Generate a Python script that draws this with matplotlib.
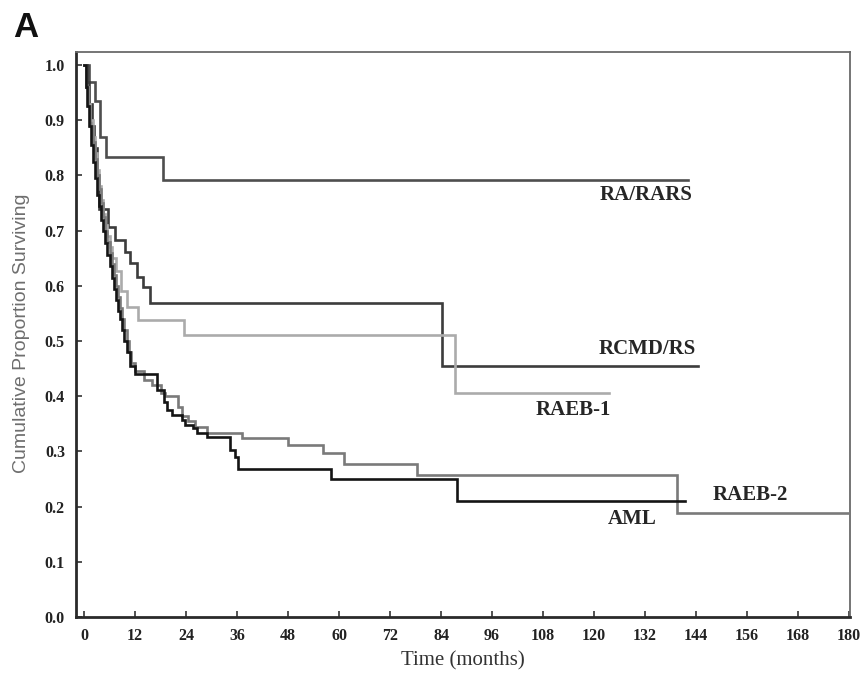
import matplotlib
matplotlib.use("Agg")
import matplotlib.pyplot as plt

# ---- data (step times in months, survival after each step) ----
ra_t = [0, 1.2, 2.6, 3.8, 5.2, 18.6]
ra_s = [1.0, 0.97, 0.935, 0.87, 0.833, 0.792]
ra_end = 142

rcmd_t = [0, 0.6, 1.2, 1.8, 2.4, 3.0, 3.6, 5.7, 7.3, 9.6, 10.8, 12.4, 13.9, 15.4, 84.2]
rcmd_s = [1.0, 0.97, 0.93, 0.89, 0.85, 0.80, 0.74, 0.707, 0.683, 0.662, 0.641, 0.616, 0.598, 0.569, 0.454]
rcmd_end = 144.4

raeb1_t = [0, 0.5, 1.0, 1.5, 2.0, 2.5, 3.0, 3.5, 4.0, 4.5, 5.0, 5.5, 6.0, 6.5, 7.5, 8.7, 10.0, 12.6, 23.4, 87.3]
raeb1_s = [1.0, 0.96, 0.93, 0.90, 0.87, 0.84, 0.81, 0.78, 0.755, 0.73, 0.71, 0.69, 0.67, 0.65, 0.626, 0.59, 0.562, 0.538, 0.511, 0.405]
raeb1_end = 123.4

raeb2_t = [0, 0.5, 1.0, 1.5, 2.0, 2.5, 3.0, 3.5, 4.0, 4.5, 5.0, 5.5, 6.0, 6.5, 7.0, 7.5, 8.0, 8.5, 9.0, 9.5,
           10.0, 10.5, 11.0, 12.0, 14.0, 16.0, 18.0, 19.0, 22.0, 23.0, 24.5, 26.0, 28.9, 37.1, 48.0, 56.3, 61.2, 78.4, 139.5]
raeb2_s = [1.0, 0.96, 0.925, 0.89, 0.86, 0.83, 0.80, 0.775, 0.75, 0.725, 0.70, 0.68, 0.66, 0.64, 0.62, 0.60, 0.58, 0.56, 0.54, 0.52,
           0.50, 0.48, 0.46, 0.445, 0.43, 0.42, 0.405, 0.40, 0.38, 0.365, 0.355, 0.345, 0.333, 0.324, 0.312, 0.297, 0.278, 0.258, 0.188]
raeb2_end = 180.2

aml_t = [0, 0.4, 0.8, 1.2, 1.6, 2.0, 2.5, 3.0, 3.5, 4.0, 4.5, 5.0, 5.5, 6.0, 6.5, 7.0, 7.5, 8.0, 8.5, 9.0,
         9.5, 10.0, 10.8, 12.0, 17.1, 18.7, 19.4, 20.6, 23.0, 23.8, 25.7, 26.5, 28.9, 34.4, 35.5, 36.3, 58.1, 87.8]
aml_s = [1.0, 0.96, 0.925, 0.89, 0.855, 0.825, 0.795, 0.765, 0.745, 0.72, 0.70, 0.678, 0.655, 0.635, 0.615, 0.595, 0.575, 0.555, 0.54, 0.52,
         0.50, 0.48, 0.455, 0.44, 0.411, 0.39, 0.375, 0.366, 0.357, 0.348, 0.342, 0.333, 0.327, 0.303, 0.29, 0.269, 0.25, 0.211]
aml_end = 141.4

series_names = ["RA/RARS", "RCMD/RS", "RAEB-1", "RAEB-2", "AML"]
series_colors = ["#4e4e4e", "#3c3c3c", "#ababab", "#7a7a7a", "#141414"]

x_ticks = [0, 12, 24, 36, 48, 60, 72, 84, 96, 108, 120, 132, 144, 156, 168, 180]
y_ticks = [0.0, 0.1, 0.2, 0.3, 0.4, 0.5, 0.6, 0.7, 0.8, 0.9, 1.0]

# label positions (data coords) and alignment
label_pos = {
    "RA/RARS": (143.2, 0.764, "right"),
    "RCMD/RS": (144.0, 0.486, "right"),
    "RAEB-1": (124.0, 0.375, "right"),
    "RAEB-2": (147.8, 0.221, "left"),
    "AML": (123.3, 0.178, "left"),
}

fig = plt.figure(figsize=(8.65, 6.8), dpi=100)
ax = fig.add_axes([76/865, 1-617/680, (850-76)/865, (617-52)/680])

data = [(ra_t, ra_s, ra_end), (rcmd_t, rcmd_s, rcmd_end), (raeb1_t, raeb1_s, raeb1_end),
        (raeb2_t, raeb2_s, raeb2_end), (aml_t, aml_s, aml_end)]
order = [2, 3, 0, 1, 4]
for i in order:
    t, s, end = data[i]
    ax.step(list(t) + [end], list(s) + [s[-1]], where="post",
            color=series_colors[i], lw=1.9, solid_joinstyle="miter", zorder=3 + i)

for name in series_names:
    x, y, ha = label_pos[name]
    ax.text(x, y, name, ha=ha, va="center", fontsize=15, fontweight="bold",
            family="Liberation Serif", color="#262626")

ax.set_xlim(-1.9, 180.2)
ax.set_ylim(0.0, 1.0236)
ax.set_xticks(x_ticks)
ax.set_yticks(y_ticks)
ax.set_xticklabels([str(v) for v in x_ticks])
ax.set_yticklabels(["%.1f" % v for v in y_ticks])
ax.tick_params(direction="in", length=4, width=1.2, color="#333333", pad=8,
               labelsize=11.5, labelcolor="#222222")
for lab in ax.get_xticklabels() + ax.get_yticklabels():
    lab.set_family("Liberation Serif")
    lab.set_fontweight("bold")

for side in ["left", "bottom"]:
    ax.spines[side].set_linewidth(2.0)
    ax.spines[side].set_color("#2a2a2a")
for side in ["top", "right"]:
    ax.spines[side].set_linewidth(1.3)
    ax.spines[side].set_color("#6a6a6a")

ax.set_xlabel("Time (months)", family="Liberation Serif", fontsize=15, color="#333333", labelpad=5)
fig.text(22/865, 1-333/680, "Cumulative Proportion Surviving", rotation=90, ha="center", va="center",
         family="Liberation Sans", fontsize=14, color="#6e6e6e")
fig.text(13/865, 1-37/680, "A", ha="left", va="baseline", family="Liberation Sans",
         fontweight="bold", fontsize=25, color="#111111")

fig.savefig("out.png", dpi=100)
